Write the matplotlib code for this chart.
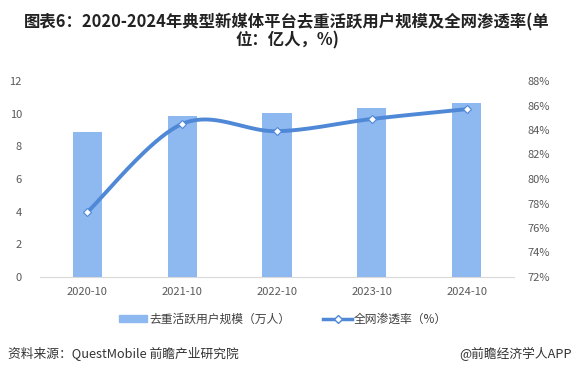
import numpy as np
import matplotlib
matplotlib.use("Agg")
import matplotlib.pyplot as plt
from matplotlib.patches import Patch
from matplotlib.lines import Line2D

plt.rcParams['font.family'] = ['Noto Sans CJK SC', 'DejaVu Sans']

categories = ["2020-10", "2021-10", "2022-10", "2023-10", "2024-10"]
users = [8.9, 9.85, 10.05, 10.35, 10.65]
penetration = [77.3, 84.5, 83.9, 84.9, 85.7]
left_ticks = [0, 2, 4, 6, 8, 10, 12]
right_ticks = [72, 74, 76, 78, 80, 82, 84, 86, 88]

bar_color = "#8EB8F0"
line_color = "#4F88D6"
tick_color = "#595959"

fig = plt.figure(figsize=(5.74, 3.74), dpi=100)
ax = fig.add_axes([40/574, 1-277/374, (514-40)/574, (277-81)/374])
ax2 = ax.twinx()

x = np.arange(len(categories))
ax.bar(x, users, width=0.31, color=bar_color, zorder=2)
ax.set_xlim(-0.5, len(categories) - 0.5)
ax.set_ylim(0, 12)
ax.set_yticks(left_ticks)
ax.set_xticks(x)
ax.set_xticklabels(categories)

# Smoothed line (Catmull-Rom -> Bezier in screen-proportional space)
sx, sy = 94.7, 12.25
px = x * sx
py = np.array(penetration) * sy
pts = np.column_stack([px, py])
curve = []
n = len(pts)
for i in range(n - 1):
    p0 = pts[i - 1] if i > 0 else pts[i]
    p1 = pts[i]
    p2 = pts[i + 1]
    p3 = pts[i + 2] if i + 2 < n else pts[i + 1]
    c1 = p1 + (p2 - p0) / 6
    c2 = p2 - (p3 - p1) / 6
    t = np.linspace(0, 1, 40)[:, None]
    seg = (1 - t) ** 3 * p1 + 3 * (1 - t) ** 2 * t * c1 + 3 * (1 - t) * t ** 2 * c2 + t ** 3 * p2
    curve.append(seg if i == 0 else seg[1:])
curve = np.vstack(curve)
ax2.plot(curve[:, 0] / sx, curve[:, 1] / sy, color=line_color, lw=2.8, zorder=3,
         solid_capstyle='round')
ax2.plot(x, penetration, ls='none', marker='D', ms=4, mfc='white', mec=line_color,
         mew=0.8, zorder=4)
ax2.set_ylim(72, 88)
ax2.set_yticks(right_ticks)
ax2.set_yticklabels([f"{t}%" for t in right_ticks])

for a in (ax, ax2):
    for s in ['top', 'left', 'right']:
        a.spines[s].set_visible(False)
    a.tick_params(length=0, labelsize=8, colors=tick_color)
ax2.spines['bottom'].set_visible(False)
ax.spines['bottom'].set_color("#D9D9D9")
ax.tick_params(axis='x', pad=7)
ax.tick_params(axis='y', pad=13)
ax2.tick_params(axis='y', pad=10)

fig.text(0.5, 1 - 22/374, "图表6：2020-2024年典型新媒体平台去重活跃用户规模及全网渗透率(单",
         ha='center', va='center', fontsize=11.8, fontweight='bold', color='#222222')
fig.text(0.5, 1 - 40/374, "位：亿人，%)",
         ha='center', va='center', fontsize=11.8, fontweight='bold', color='#222222')

handles = [Patch(color=bar_color, label="去重活跃用户规模（万人）"),
           Line2D([0], [0], color=line_color, lw=2.5, marker='D', ms=4, mfc='white',
                  mec=line_color, label="全网渗透率（%）")]
fig.legend(handles=handles, loc='center', bbox_to_anchor=(283/574, 1 - 319/374), ncol=2,
           frameon=False, fontsize=8.5, handlelength=2.4, handleheight=0.6, columnspacing=2.8,
           handletextpad=0.2, labelcolor='#404040')

fig.text(8/574, 1 - 354/374, "资料来源：QuestMobile 前瞻产业研究院", ha='left', va='center',
         fontsize=9.2, color='#333333')
fig.text(572/574, 1 - 354/374, "@前瞻经济学人APP", ha='right', va='center',
         fontsize=9.2, color='#333333')

fig.savefig("out.png", dpi=100)
